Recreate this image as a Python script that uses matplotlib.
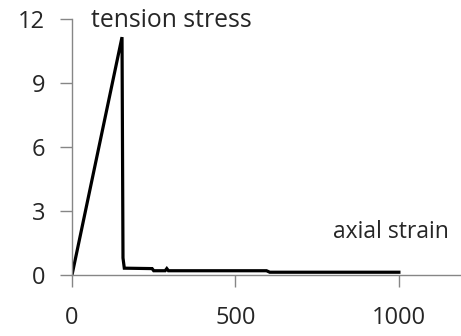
import matplotlib
matplotlib.use("Agg")
import matplotlib.pyplot as plt

# stress-strain curve (axial strain in microstrain, tension stress)
strain = [0, 153, 156, 160, 245, 250, 285, 290, 295, 595, 605, 1000]
stress = [0, 11.15, 0.8, 0.32, 0.3, 0.2, 0.2, 0.3, 0.2, 0.2, 0.13, 0.13]

x_ticks = [0, 500, 1000]
y_ticks = [0, 3, 6, 9, 12]

plt.rcParams['font.family'] = ['Open Sans', 'DejaVu Sans']
text_color = '#262626'
axis_color = '#868686'

fig = plt.figure(figsize=(4.61, 3.36), dpi=100)
ax = fig.add_axes([72 / 461, 61 / 336, (461 - 72) / 461, 256 / 336])

ax.plot(strain, stress, color='black', lw=2.3, solid_joinstyle='miter')

ax.set_xlim(0, 1190)
ax.set_ylim(0, 12)
ax.set_xticks(x_ticks)
ax.set_yticks(y_ticks)

for side in ('top', 'right'):
    ax.spines[side].set_visible(False)
for side in ('left', 'bottom'):
    ax.spines[side].set_color(axis_color)
    ax.spines[side].set_linewidth(1.0)

ax.tick_params(axis='both', colors=axis_color, length=8.3, width=1.0,
               labelcolor=text_color, labelsize=17)
ax.tick_params(axis='y', pad=11)
ax.tick_params(axis='x', pad=14)

ax.text(0.049, 0.969, 'tension stress', transform=ax.transAxes,
        fontsize=17.8, color=text_color, ha='left', va='baseline')
ax.text(0.97, 0.1445, 'axial strain', transform=ax.transAxes,
        fontsize=16.5, color=text_color, ha='right', va='baseline')

fig.savefig('out.png', dpi=100)
